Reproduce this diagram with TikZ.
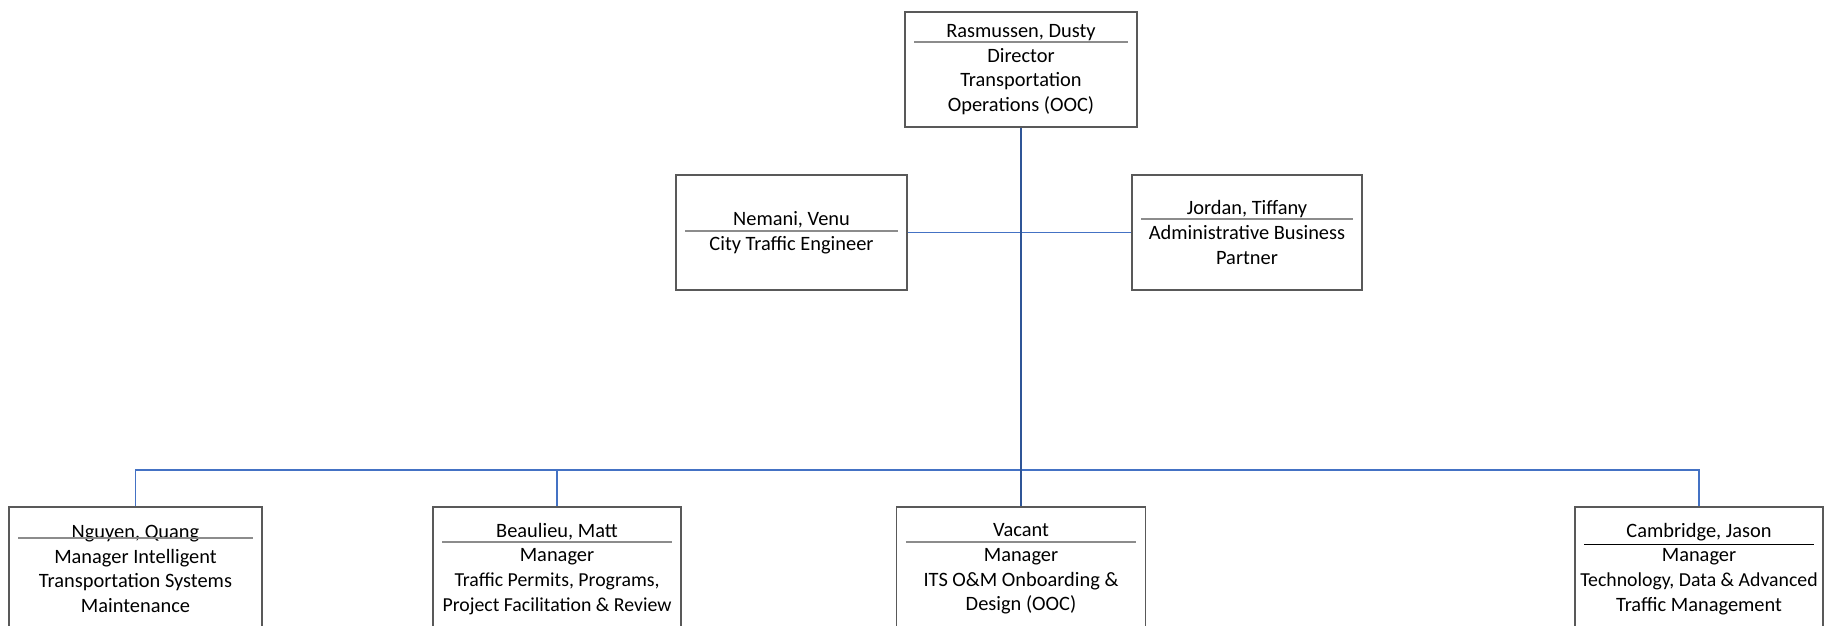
\documentclass[tikz,border=0pt]{standalone}
\usepackage{fontspec}
\setmainfont{Carlito}
\usepackage{xcolor}
\usetikzlibrary{calc}

\definecolor{boxgray}{RGB}{89,89,89}
\definecolor{rulegray}{RGB}{140,140,140}
\definecolor{linkblue}{RGB}{68,114,196}
\definecolor{trunkblue}{RGB}{47,85,151}

% separator under the person's name, dy in px from the top edge
\newcommand{\namerule}[3][rulegray, line width=1pt]{%
  \draw[#1] ($(#2.north west)+(10,#3)$) -- ($(#2.north east)+(-10,#3)$);}

\begin{document}
\begin{tikzpicture}[x=0.5pt, y=-0.5pt,
  orgbox/.style={draw=boxgray, line width=0.7pt, fill=white, inner sep=0pt,
    align=center, minimum height=57.5pt,
    font=\fontsize{10.2}{12.4}\selectfont},
  lowbox/.style={orgbox, minimum height=62pt},
  link/.style={draw=linkblue, line width=0.6pt},
  trunk/.style={draw=trunkblue, line width=0.9pt}]
\clip (0,0) rectangle (1825,626);
\fill[white] (0,0) rectangle (1825,626);

\coordinate (bus) at (1021,470);

% top level
\node[orgbox, minimum width=116pt] (dir) at (1021,69.5)
  {Rasmussen, Dusty\\Director\\Transportation\\Operations (OOC)};
\node[orgbox, minimum width=115.5pt] (nemani) at (791.5,232.5)
  {Nemani, Venu\\City Traffic Engineer};
\node[orgbox, minimum width=115pt] (jordan) at (1247,232.5)
  {Jordan, Tiffany\\Administrative Business\\Partner};

% managers
\node[lowbox, minimum width=126.5pt] (nguyen) at (135.5,569)
  {Nguyen, Quang\\Manager Intelligent\\Transportation Systems\\Maintenance};
\node[lowbox, minimum width=124pt] (beaulieu) at (557,569)
  {Beaulieu, Matt\\Manager\\{\fontsize{9.9}{12.4}\selectfont Traffic Permits, Programs,}\\{\fontsize{9.9}{12.4}\selectfont Project Facilitation \& Review}};
\node[lowbox, minimum width=124.5pt] (vacant) at (1021,569)
  {Vacant\\Manager\\ITS O\&M Onboarding \&\\Design (OOC)};
\node[lowbox, minimum width=124pt] (cambridge) at (1699,569)
  {Cambridge, Jason\\Manager\\{\fontsize{9.9}{12.4}\selectfont Technology, Data \& Advanced}\\Traffic Management};

\namerule{dir}{31}
\namerule{nemani}{57}
\namerule{jordan}{45}
\namerule{nguyen}{32}
\namerule{beaulieu}{36}
\namerule{vacant}{36}
\namerule[black, line width=0.5pt]{cambridge}{38}

% connectors
\draw[link] (nemani.east) -- (jordan.west);
\draw[link] (nguyen.north) |- (bus) -| (cambridge.north);
\draw[link] (beaulieu.north) -- (beaulieu.north |- bus);
\draw[trunk] (dir.south) -- (vacant.north);
\end{tikzpicture}
\end{document}
